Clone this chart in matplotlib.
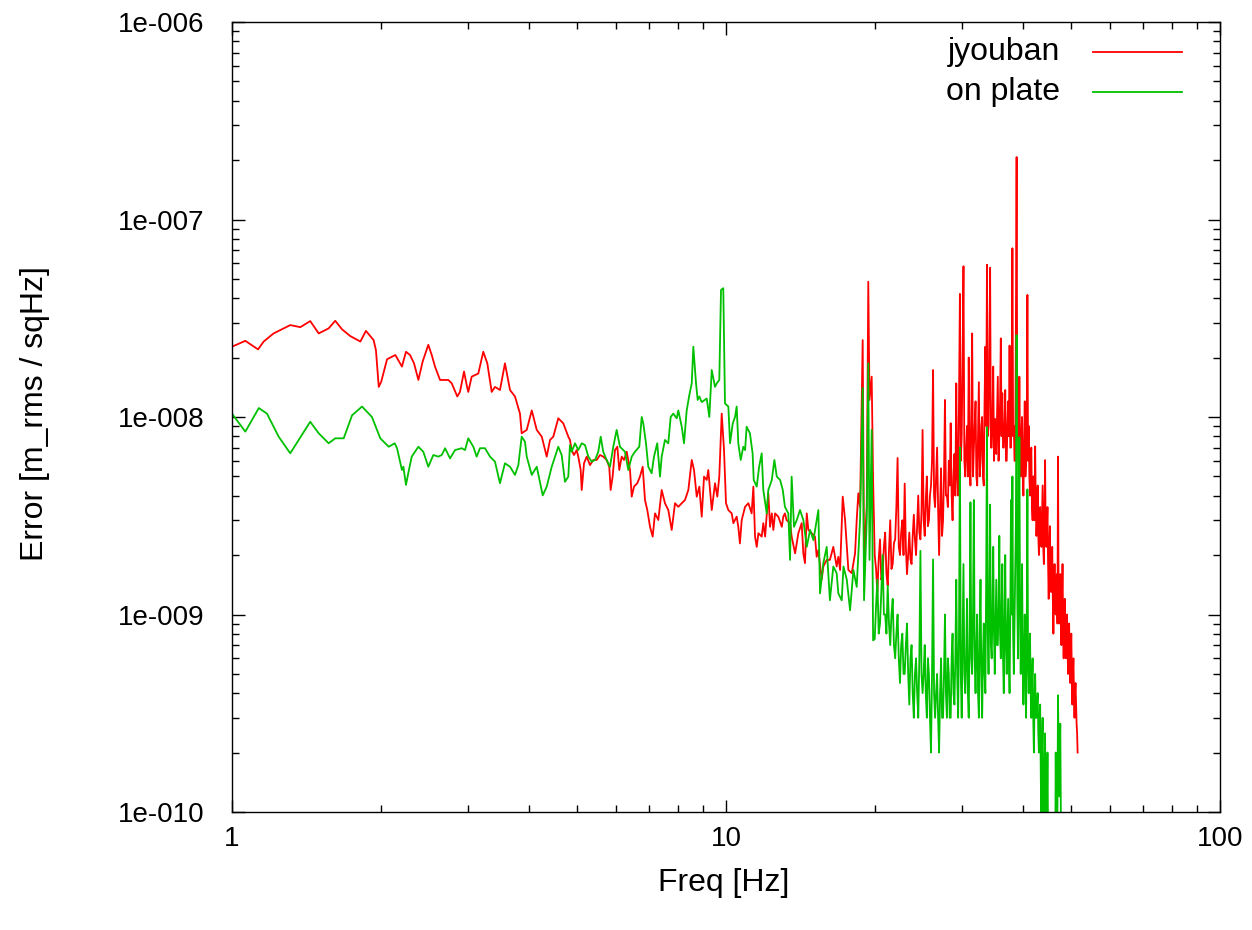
import numpy as np
import matplotlib
matplotlib.use("Agg")
import matplotlib.pyplot as plt
from matplotlib.ticker import FixedLocator, FixedFormatter, LogLocator, NullFormatter
from matplotlib.lines import Line2D

plt.rcParams['font.family'] = ['Liberation Sans', 'DejaVu Sans']

# ---------------- data (values in units of 1e-9 m_rms/sqHz) ----------------
series_labels = ["jyouban", "on plate"]

jyouban_freq_low = [
    1.000, 1.064, 1.129, 1.159, 1.214, 1.312, 1.375, 1.440, 1.498, 1.569,
    1.618, 1.670, 1.735, 1.819, 1.867, 1.935, 1.956, 1.982, 2.005, 2.060,
    2.141, 2.208, 2.250, 2.293, 2.336, 2.384, 2.432, 2.497, 2.537, 2.576,
    2.637, 2.741, 2.785, 2.858, 2.894, 2.949, 2.986, 3.008, 3.056, 3.152,
    3.226, 3.287, 3.355, 3.407, 3.487, 3.569, 3.654, 3.740, 3.828, 3.858,
    3.950, 4.044, 4.139, 4.237, 4.336, 4.403, 4.471, 4.576, 4.684, 4.795,
    4.832, 4.871, 4.923, 4.986, 5.023, 5.080, 5.104, 5.159, 5.224, 5.305,
    5.387, 5.473, 5.557, 5.643, 5.733, 5.803, 5.841, 5.895, 5.960, 6.026,
    6.081, 6.150, 6.216, 6.295, 6.393, 6.444, 6.513, 6.613, 6.697, 6.782,
    6.855, 6.929, 7.018, 7.105, 7.183, 7.294, 7.410, 7.524, 7.642, 7.764,
    7.885, 8.007, 8.136, 8.260, 8.390, 8.524, 8.615, 8.725, 8.831, 8.930,
    9.027, 9.141, 9.209, 9.357, 9.501, 9.603, 9.692, 9.802, 9.908, 10.00,
    10.11, 10.27, 10.35, 10.51, 10.59, 10.67, 10.76, 10.93, 11.10, 11.27,
    11.36, 11.45, 11.54, 11.63, 11.81, 11.90, 12.00, 12.18, 12.28, 12.38,
    12.47, 12.57, 12.76, 12.97, 13.06, 13.16, 13.26, 13.48, 13.58, 13.80,
    14.01, 14.23, 14.34, 14.45, 14.57, 14.68, 14.91, 15.14, 15.26, 15.38,
    15.62, 15.74, 15.99, 16.23, 16.49, 16.75, 16.88, 17.02, 17.23, 17.42,
    17.69, 17.97, 18.25, 18.39, 18.53, 18.68, 18.91, 19.03, 19.27, 19.41,
    19.52, 19.72, 19.85,
]
jyouban_low = [
    22.7, 24.3, 22.0, 24.1, 26.5, 29.2, 28.5, 30.6, 26.5, 28.1,
    30.7, 27.8, 25.7, 24.1, 27.3, 24.5, 21.8, 14.2, 15.1, 19.6,
    20.6, 18.0, 21.4, 20.6, 18.7, 15.4, 19.1, 23.2, 20.6, 18.0,
    15.4, 15.4, 14.8, 12.7, 13.4, 17.0, 14.5, 13.4, 16.0, 16.6,
    21.4, 18.7, 13.4, 14.2, 13.7, 18.7, 13.7, 12.7, 10.4, 8.27,
    8.6, 10.8, 8.6, 7.95, 6.3, 7.65, 7.95, 9.85, 9.29, 7.95,
    7.65, 6.8, 6.42, 6.8, 6.3, 5.39, 4.27, 5.83, 6.3, 5.71,
    6.06, 6.06, 6.42, 6.3, 6.06, 5.6, 4.27, 4.99, 6.8, 7.07,
    5.39, 6.3, 6.06, 6.67, 5.39, 3.95, 4.44, 4.62, 4.99, 5.6,
    3.80, 3.38, 2.78, 2.48, 3.25, 3.01, 4.27, 3.66, 3.38, 2.68,
    3.66, 3.51, 3.66, 3.80, 4.27, 6.06, 5.39, 3.95, 4.44, 3.13,
    4.99, 4.80, 5.39, 3.38, 4.62, 3.95, 4.99, 10.4, 6.8, 3.66,
    3.38, 3.25, 2.90, 3.13, 2.78, 2.29, 3.01, 3.51, 3.66, 3.25,
    4.44, 2.48, 2.20, 2.58, 2.48, 2.90, 2.48, 4.11, 2.78, 3.25,
    2.68, 3.25, 3.13, 2.78, 3.13, 3.25, 3.01, 2.90, 2.48, 2.04,
    2.58, 2.90, 2.04, 1.82, 3.25, 2.68, 2.58, 2.48, 1.96, 2.12,
    1.50, 1.75, 1.89, 1.89, 2.20, 1.75, 1.96, 1.68, 3.95, 3.01,
    1.68, 1.62, 2.04, 3.01, 4.11, 3.51, 24.5, 1.89, 3.51, 48.4,
    12.2, 16.0, 4.80,
]
# 20.000 ... 51.500 Hz, 0.125 Hz bins (one row per Hz)
jyouban_high = [
    2.0, 1.7, 1.3, 1.9, 2.4, 1.5, 1.6, 2.2,
    2.6, 1.6, 1.4, 2.1, 3.0, 1.7, 1.8, 2.3,
    2.4, 3.5, 6.2, 2.2, 2.0, 2.6, 3.0, 2.0,
    4.6, 2.2, 1.6, 2.0, 2.6, 1.9, 1.8, 2.5,
    3.2, 2.4, 2.0, 2.8, 4.0, 2.6, 2.4, 3.3,
    8.6, 3.0, 2.5, 3.8, 5.0, 2.8, 3.0, 4.0,
    4.5, 6.0, 17.3, 4.0, 3.5, 5.0, 7.0, 3.5,
    2.0, 3.5, 5.5, 2.5, 3.0, 5.0, 12.2, 4.0,
    4.0, 3.5, 6.0, 4.5, 9.3, 4.0, 3.0, 5.0,
    6.5, 4.0, 14.8, 5.0, 4.0, 12.0, 42.0, 6.0,
    8.0, 20.0, 58.0, 6.0, 5.0, 7.0, 9.0, 5.0,
    20.0, 6.0, 4.5, 10.0, 26.5, 5.0, 7.0, 9.0,
    12.0, 5.0, 4.5, 8.0, 15.0, 5.0, 6.0, 9.0,
    10.0, 5.0, 4.5, 12.0, 22.7, 9.0, 59.0, 8.0,
    9.0, 20.0, 57.0, 7.0, 7.0, 10.0, 18.0, 6.0,
    9.8, 7.0, 6.5, 10.0, 16.0, 6.0, 8.0, 12.0,
    25.0, 8.0, 13.2, 7.0, 7.0, 9.0, 13.7, 6.0,
    6.0, 9.0, 12.0, 8.0, 23.0, 7.0, 7.0, 12.0,
    71.5, 8.0, 9.0, 6.0, 6.0, 30.0, 207.0, 8.0,
    9.0, 6.0, 16.0, 7.0, 5.0, 8.0, 10.0, 5.0,
    4.0, 7.0, 12.0, 5.0, 6.0, 9.0, 41.5, 6.0,
    9.0, 5.0, 4.0, 6.0, 7.0, 3.5, 3.0, 5.0,
    5.0, 3.0, 7.1, 3.5, 2.5, 3.0, 4.5, 2.5,
    2.0, 3.0, 3.5, 2.4, 2.2, 3.2, 4.5, 2.2,
    1.8, 3.0, 6.05, 2.5, 2.2, 2.8, 3.5, 1.8,
    1.2, 2.0, 2.8, 1.6, 1.3, 1.8, 2.2, 1.2,
    0.8, 1.3, 1.8, 1.1, 1.0, 1.4, 1.6, 0.9,
    6.3, 1.2, 0.9, 1.3, 1.6, 0.9, 0.7, 1.2,
    1.8, 0.9, 0.6, 1.0, 1.2, 0.7, 0.6, 0.9,
    1.0, 0.7, 0.5, 0.7, 0.9, 0.6, 0.45, 0.6,
    0.8, 0.5, 0.35, 0.5, 0.6, 0.4, 0.3, 0.4,
    0.45, 0.35, 0.28, 0.25, 0.2,
]

onplate_freq_low = [
    1.000, 1.064, 1.133, 1.177, 1.243, 1.312, 1.440, 1.498, 1.569, 1.618,
    1.683, 1.750, 1.833, 1.920, 1.996, 2.076, 2.135, 2.158, 2.208, 2.223,
    2.250, 2.274, 2.311, 2.384, 2.439, 2.497, 2.556, 2.616, 2.658, 2.700,
    2.763, 2.828, 2.917, 2.963, 3.008, 3.080, 3.128, 3.177, 3.252, 3.329,
    3.407, 3.487, 3.569, 3.654, 3.740, 3.799, 3.858, 3.918, 3.950, 4.044,
    4.139, 4.256, 4.336, 4.438, 4.576, 4.649, 4.721, 4.795, 4.832, 4.871,
    4.947, 5.023, 5.104, 5.183, 5.264, 5.347, 5.431, 5.514, 5.577, 5.643,
    5.733, 5.823, 5.913, 6.007, 6.100, 6.244, 6.342, 6.444, 6.543, 6.675,
    6.751, 6.801, 6.887, 6.961, 7.071, 7.149, 7.258, 7.352, 7.410, 7.524,
    7.642, 7.727, 7.822, 7.947, 8.007, 8.136, 8.222, 8.326, 8.428, 8.524,
    8.587, 8.696, 8.764, 8.831, 8.930, 9.141, 9.252, 9.357, 9.501, 9.577,
    9.692, 9.770, 9.874, 9.953, 10.11, 10.19, 10.32, 10.43, 10.51, 10.59,
    10.71, 10.84, 10.93, 11.01, 11.18, 11.32, 11.38, 11.54, 11.67, 11.81,
    11.90, 12.09, 12.18, 12.38, 12.53, 12.67, 12.87, 13.03, 13.16, 13.37,
    13.48, 13.58, 13.73, 13.91, 14.12, 14.34, 14.57, 14.80, 15.03, 15.38,
    15.50, 15.74, 15.99, 16.23, 16.49, 16.75, 16.88, 17.15, 17.29, 17.56,
    17.83, 18.11, 18.39, 18.68, 18.91, 19.03, 19.27, 19.41, 19.52, 19.72,
    19.85,
]
onplate_low = [
    10.4, 8.43, 11.1, 10.4, 7.95, 6.55, 9.46, 8.27, 7.36, 7.8,
    7.8, 10.2, 11.3, 10.0, 7.8, 7.07, 7.36, 6.95, 5.39, 5.6,
    4.53, 5.19, 6.3, 7.07, 6.67, 5.6, 6.42, 6.3, 6.42, 6.95,
    6.17, 6.8, 6.95, 6.8, 7.8, 7.07, 6.3, 6.95, 6.95, 6.3,
    5.94, 4.62, 5.83, 5.6, 5.09, 5.71, 7.95, 7.5, 6.3, 5.09,
    5.6, 4.01, 4.44, 5.6, 7.07, 6.42, 4.70, 4.99, 7.21, 6.67,
    7.36, 6.8, 7.36, 7.21, 6.3, 5.94, 6.06, 6.67, 7.95, 6.67,
    6.06, 5.6, 7.07, 8.6, 7.07, 6.67, 5.39, 6.3, 6.67, 7.07,
    10.0, 9.29, 7.36, 5.6, 5.19, 6.3, 7.36, 4.99, 6.3, 7.65,
    7.36, 10.0, 10.4, 9.85, 10.8, 8.93, 7.36, 10.8, 12.9, 14.8,
    22.7, 14.8, 12.2, 12.7, 11.9, 12.4, 10.0, 17.3, 14.2, 14.8,
    15.4, 44.0, 44.9, 11.7, 11.3, 7.36, 9.29, 10.0, 11.3, 7.36,
    6.06, 7.07, 6.8, 8.93, 8.27, 6.55, 4.80, 4.44, 5.6, 6.55,
    4.27, 3.25, 4.27, 4.80, 6.06, 4.99, 4.80, 4.27, 3.51, 3.25,
    1.89, 4.99, 2.78, 3.01, 3.38, 3.01, 2.20, 2.68, 2.38, 3.38,
    1.28, 1.82, 2.20, 1.18, 1.75, 1.62, 1.28, 1.18, 1.75, 1.50,
    1.05, 1.68, 1.38, 3.01, 14.0, 1.18, 3.01, 18.7, 1.89, 8.6,
    0.74,
]
# 20.000 ... 48.250 Hz, 0.125 Hz bins (one row per Hz)
onplate_high = [
    0.75, 1.1, 1.5, 0.8, 0.9, 1.3, 2.0, 1.0,
    1.0, 0.8, 1.4, 0.9, 0.7, 1.0, 1.2, 0.7,
    0.6, 0.8, 1.0, 0.6, 0.45, 0.7, 0.8, 0.5,
    0.5, 0.7, 0.9, 0.5, 0.35, 0.6, 0.7, 0.4,
    0.3, 0.5, 0.6, 0.4, 0.3, 0.6, 2.1, 0.5,
    0.4, 0.5, 0.7, 0.4, 0.3, 0.6, 0.5, 0.3,
    0.2, 0.5, 1.9, 0.4, 0.3, 0.4, 0.5, 0.3,
    0.2, 0.4, 0.6, 0.3, 0.3, 0.5, 1.0, 0.4,
    0.3, 0.6, 0.5, 0.3, 0.3, 0.6, 0.8, 0.4,
    0.35, 0.6, 1.5, 0.5, 0.3, 0.8, 7.0, 0.5,
    0.3, 0.7, 1.8, 0.5, 0.4, 0.6, 1.2, 0.4,
    0.3, 0.8, 3.7, 0.6, 0.5, 1.0, 3.8, 0.6,
    0.4, 0.7, 1.0, 0.4, 0.3, 0.8, 1.5, 0.5,
    0.3, 0.6, 0.9, 0.5, 0.4, 1.5, 8.9, 0.8,
    0.5, 1.2, 3.6, 0.7, 0.6, 1.0, 2.2, 0.8,
    0.5, 0.9, 1.5, 0.7, 0.7, 1.1, 2.5, 0.8,
    0.6, 1.0, 1.8, 0.6, 0.4, 0.9, 2.0, 0.7,
    0.5, 0.8, 1.2, 0.6, 0.4, 1.0, 3.8, 1.0,
    5.0, 0.8, 0.5, 0.9, 1.5, 3.0, 26.0, 1.2,
    0.6, 2.0, 7.9, 1.0, 0.5, 0.9, 1.8, 0.6,
    0.35, 0.6, 1.0, 0.5, 0.3, 0.8, 4.3, 0.6,
    0.4, 0.6, 0.8, 0.4, 0.3, 0.45, 0.6, 0.3,
    0.2, 0.35, 0.5, 0.3, 0.3, 0.35, 0.4, 0.25,
    0.2, 0.3, 0.35, 0.15, 0.08, 0.2, 0.3, 0.1,
    0.05, 0.15, 0.25, 0.08, 0.05, 0.1, 0.2, 0.07,
    0.05, 0.06, 0.06, 0.05, 0.05, 0.05, 0.05, 0.05,
    0.06, 0.05, 0.05, 0.05, 0.2, 0.08, 0.05, 0.1,
    0.39, 0.2, 0.12, 0.2, 0.28, 0.1, 0.05, 0.05,
    0.06, 0.05, 0.05,
]

x_ticks = [1, 10, 100]
x_ticklabels = ["1", "10", "100"]
y_ticks = [1e-10, 1e-9, 1e-8, 1e-7, 1e-6]
y_ticklabels = ["1e-010", "1e-009", "1e-008", "1e-007", "1e-006"]
x_label = "Freq [Hz]"
y_label = "Error [m_rms / sqHz]"

# ---------------- assemble ----------------
BIN = 0.125
jy_f = np.concatenate([jyouban_freq_low, 20.0 + BIN * np.arange(len(jyouban_high))])
jy_v = np.concatenate([jyouban_low, jyouban_high]) * 1e-9
op_f = np.concatenate([onplate_freq_low, 20.0 + BIN * np.arange(len(onplate_high))])
op_v = np.concatenate([onplate_low, onplate_high]) * 1e-9

RED = "#ff0000"
GREEN = "#00c000"
LW = 1.3

fig = plt.figure(figsize=(12.52, 9.30), dpi=100)
ax = fig.add_axes([232 / 1252, 1 - 812 / 930, (1220 - 232) / 1252, (812 - 22) / 930])

ax.plot(jy_f, jy_v, color=RED, lw=LW)
ax.plot(op_f, op_v, color=GREEN, lw=LW)

ax.set_xscale('log')
ax.set_yscale('log')
ax.set_xlim(1, 100)
ax.set_ylim(1e-10, 1e-6)

ax.xaxis.set_major_locator(FixedLocator(x_ticks))
ax.xaxis.set_major_formatter(FixedFormatter(x_ticklabels))
ax.yaxis.set_major_locator(FixedLocator(y_ticks))
ax.yaxis.set_major_formatter(FixedFormatter(y_ticklabels))
ax.xaxis.set_minor_locator(LogLocator(base=10, subs=np.arange(2, 10)))
ax.yaxis.set_minor_locator(LogLocator(base=10, subs=np.arange(2, 10)))
ax.xaxis.set_minor_formatter(NullFormatter())
ax.yaxis.set_minor_formatter(NullFormatter())

ax.tick_params(which='both', direction='in', top=True, right=True, width=1.0, colors='black')
ax.tick_params(which='major', length=9)
ax.tick_params(which='minor', length=5)
ax.tick_params(axis='y', which='major', labelsize=20, pad=20)
ax.tick_params(axis='x', which='major', labelsize=20, pad=10)
for s in ax.spines.values():
    s.set_linewidth(1.0)

fig.text(724 / 1252, 1 - 883 / 930, x_label, fontsize=23, ha='center', va='center')
fig.text(35 / 1252, 1 - 414 / 930, y_label, fontsize=23, ha='center', va='center', rotation=90)

# legend (gnuplot style: right-aligned text followed by line sample)
leg_y = [0.962, 0.911]
for lab, col, yy in zip(series_labels, [RED, GREEN], leg_y):
    ax.text(0.838, yy, lab, transform=ax.transAxes, ha='right', va='center', fontsize=23)
    ax.add_line(Line2D([0.8715, 0.9615], [yy, yy], transform=ax.transAxes, color=col, lw=LW))

fig.savefig("out.png", dpi=100)
